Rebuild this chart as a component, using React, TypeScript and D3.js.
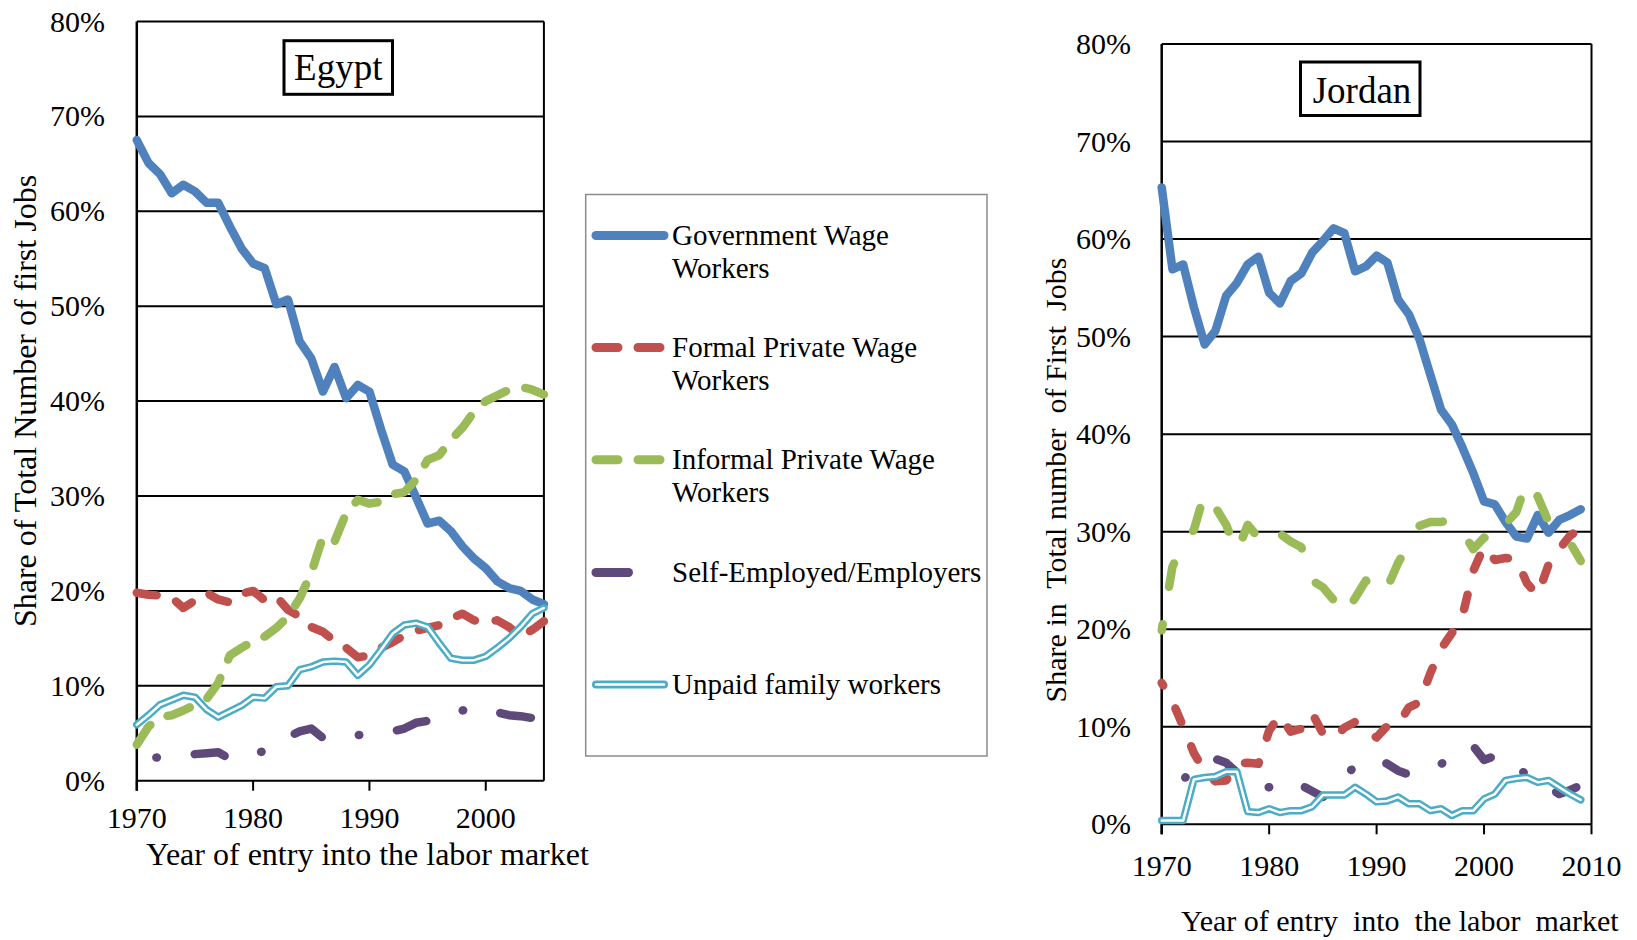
import React from "react";
import * as d3 from "d3";

// ---------- DATA ----------
const egyptYears = d3.range(1970, 2006);
const egyptGov = [67.5, 65.1, 63.9, 61.9, 62.8, 62.1, 60.9, 60.9, 58.4, 56.1,
  54.5, 54.0, 50.2, 50.7, 46.3, 44.5, 41.0, 43.6, 40.3, 41.7,
  41.0, 37.0, 33.3, 32.6, 29.9, 27.1, 27.4, 26.3, 24.7, 23.4,
  22.4, 21.0, 20.3, 20.0, 19.1, 18.6];
const egyptFormal = [19.8, 19.6, 19.5, 19.3, 18.2, 19.0, 19.8, 19.1, 18.8, 19.7,
  20.0, 19.0, 19.4, 18.0, 17.3, 16.2, 15.7, 14.7, 14.0, 13.0,
  13.2, 14.0, 14.6, 15.3, 15.8, 16.1, 16.4, 17.1, 17.6, 16.9,
  16.7, 16.9, 16.2, 15.2, 15.9, 16.8];
const egyptInformal = [3.8, 5.7, 6.7, 6.9, 7.4, 8.0, 8.6, 10.3, 13.2, 14.0,
  14.7, 15.2, 16.1, 17.3, 19.2, 21.9, 25.7, 25.2, 28.2, 29.6,
  29.2, 29.4, 30.2, 30.4, 31.7, 33.8, 34.3, 35.9, 37.2, 38.9,
  40.0, 40.6, 41.2, 41.5, 41.2, 40.7];
const egyptSelf = [2.0, 2.3, 2.5, 2.6, 2.7, 2.8, 2.9, 3.0, 2.3, 2.6,
  2.9, 3.1, 3.8, 4.6, 5.2, 5.5, 4.5, 4.3, 4.5, 4.8,
  4.9, 5.0, 5.2, 5.5, 6.1, 6.3, 6.6, 7.0, 7.4, 7.7,
  7.5, 7.2, 6.9, 6.8, 6.6, 5.7];
const egyptUnpaid = [5.9, 6.9, 8.0, 8.5, 9.0, 8.8, 7.5, 6.7, 7.3, 7.9,
  8.8, 8.7, 9.9, 10.0, 11.7, 12.0, 12.5, 12.6, 12.5, 11.1,
  12.2, 13.8, 15.5, 16.4, 16.6, 16.2, 14.5, 12.9, 12.7, 12.7,
  13.1, 14.0, 15.0, 16.2, 17.6, 18.2];

const jordanYears = d3.range(1970, 2010);
const jordanGov = [65.3, 56.9, 57.4, 53.0, 49.2, 50.6, 54.2, 55.5, 57.4, 58.2,
  54.5, 53.4, 55.7, 56.5, 58.6, 59.8, 61.1, 60.6, 56.7, 57.2,
  58.3, 57.6, 53.8, 52.3, 49.7, 46.1, 42.5, 41.0, 38.6, 36.0,
  33.1, 32.8, 31.0, 29.5, 29.3, 31.7, 29.9, 31.2, 31.7, 32.3];
const jordanFormal = [14.5, 12.6, 10.0, 7.3, 5.4, 4.4, 4.5, 6.2, 6.3, 6.2,
  9.6, 11.2, 9.5, 9.8, 11.4, 9.3, 8.8, 9.9, 10.5, 9.6,
  8.9, 10.1, 10.2, 12.0, 12.5, 15.5, 18.0, 19.6, 21.4, 26.0,
  28.5, 27.1, 27.3, 27.2, 24.7, 23.5, 26.6, 28.2, 29.6, 30.3];
const jordanInformal = [19.9, 26.4, 28.8, 30.2, 34.0, 32.5, 30.7, 27.9, 30.7, 29.4,
  30.6, 29.8, 29.0, 28.4, 25.0, 24.3, 23.0, 21.4, 23.2, 25.0,
  23.5, 24.3, 26.8, 28.7, 30.6, 31.0, 31.0, 31.2, 30.0, 28.2,
  29.4, 28.9, 30.8, 32.0, 35.2, 33.6, 31.0, 30.0, 28.9, 27.0];
const jordanSelf = [2.0, 3.3, 4.6, 5.6, 6.5, 6.7, 6.3, 5.3, 4.4, 3.9,
  3.8, 3.6, 3.4, 4.0, 3.4, 2.8, 3.9, 5.2, 5.8, 6.3,
  6.7, 6.2, 5.5, 5.1, 5.5, 5.9, 6.2, 6.7, 7.3, 8.0,
  6.6, 7.0, 6.8, 5.8, 5.1, 4.5, 3.8, 3.1, 3.5, 4.0];
const jordanUnpaid = [0.4, 0.4, 0.4, 4.6, 4.8, 4.9, 5.4, 5.4, 1.3, 1.2,
  1.6, 1.2, 1.4, 1.4, 1.8, 3.0, 3.0, 3.0, 3.8, 3.1,
  2.3, 2.4, 2.8, 2.1, 2.1, 1.4, 1.6, 0.9, 1.4, 1.4,
  2.6, 3.1, 4.5, 4.7, 4.8, 4.3, 4.5, 3.8, 3.1, 2.5];

const yTicks = [0, 10, 20, 30, 40, 50, 60, 70, 80];
const egyptXTicks = [1970, 1980, 1990, 2000];
const jordanXTicks = [1970, 1980, 1990, 2000, 2010];

const seriesNames = ["Government Wage|Workers", "Formal Private Wage|Workers",
  "Informal Private Wage|Workers", "Self-Employed/Employers", "Unpaid family workers"];

// ---------- STYLE ----------
const FONT = '"Liberation Serif", "Times New Roman", Times, serif';
const C_BLUE = "#4F81BD";
const C_RED = "#C0504D";
const C_GREEN = "#9BBB59";
const C_PURPLE = "#5F497A";
const C_CYAN = "#4BACC6";
const LW = 8.5;

type PanelCfg = {
  years: number[];
  gov: number[]; formal: number[]; informal: number[]; self: number[]; unpaid: number[];
  x0: number; x1: number; xDomain: [number, number];
  y0: number; y1: number;
  xTicks: number[];
  yLabelX: number; xLabelBaseline: number;
  dash: { red: string; redOff: number; green: string; greenOff: number; purple: string; purpleOff: number };
};

function Panel({ c }: { c: PanelCfg }) {
  const x = d3.scaleLinear().domain(c.xDomain).range([c.x0, c.x1]);
  const y = d3.scaleLinear().domain([0, 80]).range([c.y0, c.y1]);
  const line = (vals: number[]) =>
    d3.line<number>().x((_, i) => x(c.years[i])).y((v) => y(v))(vals) || "";
  return (
    <g>
      {yTicks.map((t) => (
        <line key={"g" + t} x1={c.x0} x2={c.x1} y1={y(t)} y2={y(t)} stroke="#000" strokeWidth={2} />
      ))}
      <line x1={c.x1} x2={c.x1} y1={c.y1} y2={c.y0} stroke="#000" strokeWidth={2} />
      <line x1={c.x0} x2={c.x0} y1={c.y1} y2={c.y0 + 10} stroke="#000" strokeWidth={2.5} />
      {c.xTicks.map((t) => (
        <line key={"t" + t} x1={x(t)} x2={x(t)} y1={c.y0} y2={c.y0 + 10} stroke="#000" strokeWidth={2} />
      ))}
      {yTicks.map((t) => (
        <text key={"yl" + t} x={c.yLabelX} y={y(t) + 10} textAnchor="end" fontSize={30} fontFamily={FONT}>
          {t}%
        </text>
      ))}
      {c.xTicks.map((t) => (
        <text key={"xl" + t} x={x(t)} y={c.xLabelBaseline} textAnchor="middle" fontSize={30} fontFamily={FONT}>
          {t}
        </text>
      ))}
      <g fill="none" strokeLinecap="round" strokeLinejoin="round">
        <path d={line(c.gov)} stroke={C_BLUE} strokeWidth={LW} />
        <path d={line(c.formal)} stroke={C_RED} strokeWidth={LW} strokeDasharray={c.dash.red} strokeDashoffset={c.dash.redOff} />
        <path d={line(c.informal)} stroke={C_GREEN} strokeWidth={LW} strokeDasharray={c.dash.green} strokeDashoffset={c.dash.greenOff} />
        <path d={line(c.self)} stroke={C_PURPLE} strokeWidth={LW} strokeDasharray={c.dash.purple} strokeDashoffset={c.dash.purpleOff} />
        <path d={line(c.unpaid)} stroke={C_CYAN} strokeWidth={7.5} />
        <path d={line(c.unpaid)} stroke="#fff" strokeWidth={2.5} />
      </g>
    </g>
  );
}

const egyptCfg: PanelCfg = {
  years: egyptYears, gov: egyptGov, formal: egyptFormal, informal: egyptInformal, self: egyptSelf, unpaid: egyptUnpaid,
  x0: 136.8, x1: 543.9, xDomain: [1970, 2005], y0: 780.7, y1: 21.5,
  xTicks: egyptXTicks, yLabelX: 105, xLabelBaseline: 828,
  dash: { red: "20 21", redOff: 0, green: "24 20", greenOff: 0, purple: "31 38 0.5 38", purpleOff: 49 },
};
const jordanCfg: PanelCfg = {
  years: jordanYears, gov: jordanGov, formal: jordanFormal, informal: jordanInformal, self: jordanSelf, unpaid: jordanUnpaid,
  x0: 1161.7, x1: 1591.5, xDomain: [1970, 2010], y0: 824.3, y1: 44,
  xTicks: jordanXTicks, yLabelX: 1131, xLabelBaseline: 876,
  dash: { red: "15 26", redOff: 12, green: "24 38", greenOff: 18, purple: "22 38 0.5 38", purpleOff: 24 },
};

function Legend() {
  const lx0 = 596, lx1 = 664, tx = 672;
  const rows = [235.5, 347.5, 459.8, 572.5, 684.5];
  return (
    <g>
      <rect x={585.7} y={194.5} width={401.3} height={561.5} fill="#fff" stroke="#8c8c8c" strokeWidth={1.5} />
      <g fill="none" strokeLinecap="round">
        <line x1={lx0} x2={lx1} y1={rows[0]} y2={rows[0]} stroke={C_BLUE} strokeWidth={9} />
        <line x1={lx0} x2={lx1} y1={rows[1]} y2={rows[1]} stroke={C_RED} strokeWidth={9} strokeDasharray="22 20" />
        <line x1={lx0} x2={lx1} y1={rows[2]} y2={rows[2]} stroke={C_GREEN} strokeWidth={9} strokeDasharray="22 20" />
        <line x1={lx0} x2={628.5} y1={rows[3]} y2={rows[3]} stroke={C_PURPLE} strokeWidth={9} />
        <line x1={lx0} x2={lx1} y1={rows[4]} y2={rows[4]} stroke={C_CYAN} strokeWidth={8} />
        <line x1={lx0} x2={lx1} y1={rows[4]} y2={rows[4]} stroke="#fff" strokeWidth={2.6} />
      </g>
      {seriesNames.map((n, i) => {
        const parts = n.split("|");
        return (
          <text key={n} x={tx} y={rows[i] + 9} fontSize={29} fontFamily={FONT}>
            {parts.map((p, j) => (
              <tspan key={j} x={tx} dy={j === 0 ? 0 : 33}>{p}</tspan>
            ))}
          </text>
        );
      })}
    </g>
  );
}

export default function App() {
  return (
    <svg width={1637} height={940} style={{ position: "absolute", left: 0, top: 0, background: "#fff" }}>
      <rect width={1637} height={940} fill="#fff" />
      <Panel c={egyptCfg} />
      <Panel c={jordanCfg} />
      {/* Titles */}
      <rect x={284} y={40.7} width={108.5} height={53.6} fill="#fff" stroke="#000" strokeWidth={3} />
      <text x={338.3} y={80} textAnchor="middle" fontSize={37} fontFamily={FONT}>Egypt</text>
      <rect x={1300.5} y={62} width={119.5} height={53.5} fill="#fff" stroke="#000" strokeWidth={3} />
      <text x={1362} y={103.3} textAnchor="middle" fontSize={37} fontFamily={FONT}>Jordan</text>
      {/* Axis titles */}
      <text transform="translate(36,401) rotate(-90)" textAnchor="middle" fontSize={32} fontFamily={FONT}>
        Share of Total Number of first Jobs
      </text>
      <text x={146} y={865} fontSize={32} fontFamily={FONT}>Year of entry into the labor market</text>
      <text transform="translate(1066,480) rotate(-90)" textAnchor="middle" fontSize={30} fontFamily={FONT} style={{ whiteSpace: "pre" }}>
        {"Share in  Total number  of First  Jobs"}
      </text>
      <text x={1181} y={931} fontSize={30} fontFamily={FONT} style={{ whiteSpace: "pre" }}>
        {"Year of entry  into  the labor  market"}
      </text>
      <Legend />
    </svg>
  );
}
